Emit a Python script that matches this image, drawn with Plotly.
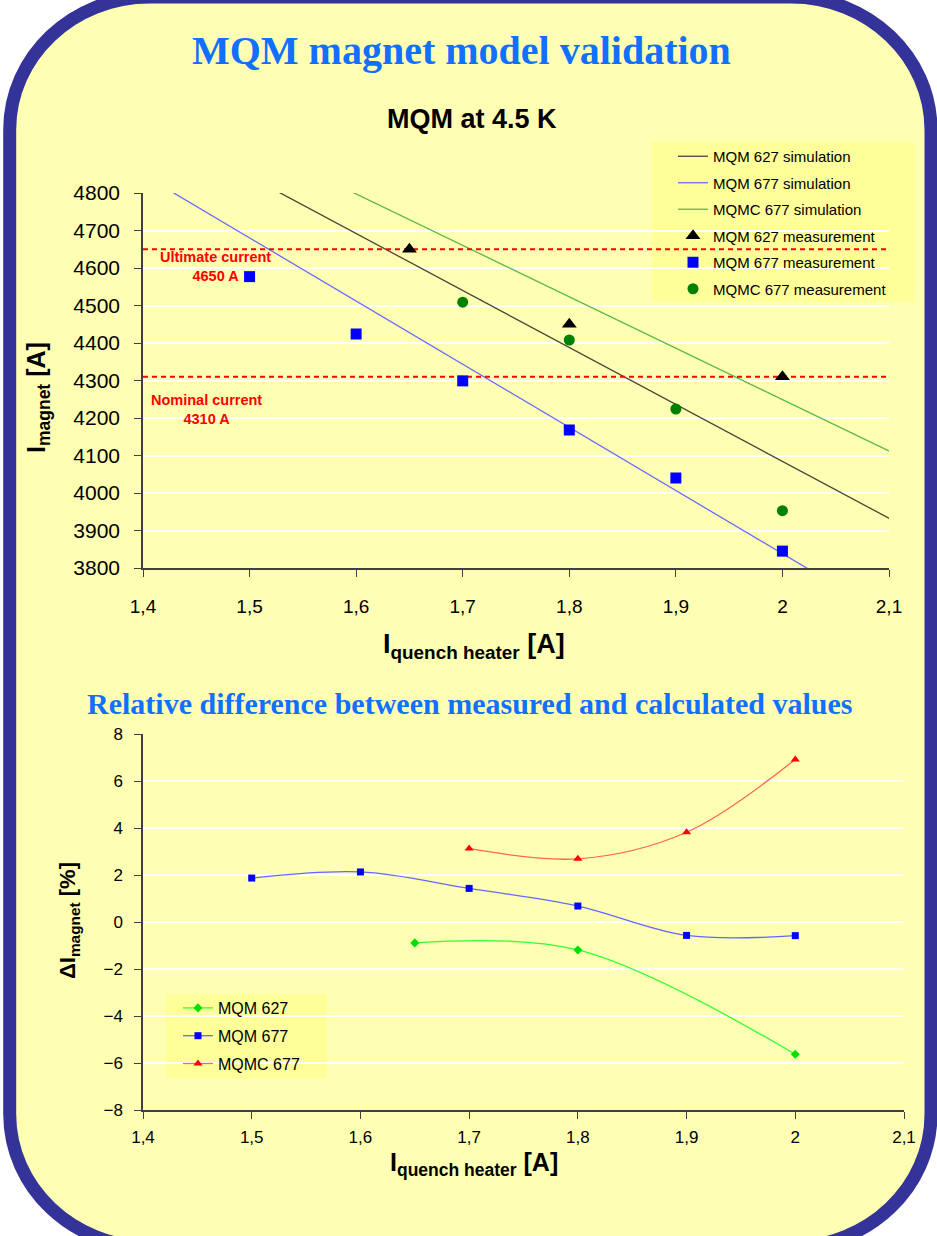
import plotly.graph_objects as go

W, H = 937, 1236

# ---------------- data: top chart ----------------
x_ticks = [1.4, 1.5, 1.6, 1.7, 1.8, 1.9, 2.0, 2.1]
x_ticktext = ["1,4", "1,5", "1,6", "1,7", "1,8", "1,9", "2", "2,1"]
y_top_ticks = [3800, 3900, 4000, 4100, 4200, 4300, 4400, 4500, 4600, 4700, 4800]

sim627_x = [1.517, 2.105]
sim627_y = [4818, 3925]
sim677_x = [1.42, 2.031]
sim677_y = [4815, 3786]
simC677_x = [1.585, 2.105]
simC677_y = [4818, 4105]

meas627_x = [1.65, 1.8, 2.0]
meas627_y = [4650, 4450, 4310]
meas677_x = [1.5, 1.6, 1.7, 1.8, 1.9, 2.0]
meas677_y = [4577, 4424, 4299, 4168, 4040, 3845]
measC677_x = [1.7, 1.8, 1.9, 2.0]
measC677_y = [4509, 4408, 4224, 3953]

ultimate_current = 4650
nominal_current = 4310
ref_x = [1.4, 2.1]

# ---------------- data: bottom chart ----------------
y_bot_ticks = [-8, -6, -4, -2, 0, 2, 4, 6, 8]
d627_x = [1.65, 1.8, 2.0]
d627_y = [-0.89, -1.19, -5.63]
d677_x = [1.5, 1.6, 1.7, 1.8, 1.9, 2.0]
d677_y = [1.87, 2.13, 1.43, 0.68, -0.57, -0.58]
dC677_x = [1.7, 1.8, 1.9, 2.0]
dC677_y = [3.13, 2.69, 3.82, 6.92]

# ---------------- helpers ----------------
def px(x):
    return x / W

def py(y):
    return 1 - y / H

SANS = "Liberation Sans, Arial, sans-serif"
SERIF = "Liberation Serif, Times New Roman, serif"
BG = "#ffffb3"
LEG_BG = "#ffff99"
AXC = "#404040"

fig = go.Figure()

# ---- top chart traces ----
fig.add_trace(go.Scatter(x=sim627_x, y=sim627_y, mode="lines", name="MQM 627 simulation",
                         line=dict(color="#45453a", width=1.3),
                         xaxis="x", yaxis="y", legend="legend", legendgroup="a"))
fig.add_trace(go.Scatter(x=sim677_x, y=sim677_y, mode="lines", name="MQM 677 simulation",
                         line=dict(color="#6b6bff", width=1.3),
                         xaxis="x", yaxis="y", legend="legend", legendgroup="b"))
fig.add_trace(go.Scatter(x=simC677_x, y=simC677_y, mode="lines", name="MQMC 677 simulation",
                         line=dict(color="#5cb84a", width=1.3),
                         xaxis="x", yaxis="y", legend="legend", legendgroup="c"))
fig.add_trace(go.Scatter(x=ref_x, y=[ultimate_current] * 2, mode="lines", showlegend=False,
                         line=dict(color="#ff0000", width=2, dash="5px,4px"), hoverinfo="skip",
                         xaxis="x", yaxis="y"))
fig.add_trace(go.Scatter(x=ref_x, y=[nominal_current] * 2, mode="lines", showlegend=False,
                         line=dict(color="#ff0000", width=2, dash="5px,4px"), hoverinfo="skip",
                         xaxis="x", yaxis="y"))
fig.add_trace(go.Scatter(x=meas627_x, y=meas627_y, mode="markers", name="MQM 627 measurement",
                         marker=dict(symbol="triangle-up", size=13, color="#000000"),
                         xaxis="x", yaxis="y", legend="legend", legendgroup="d"))
fig.add_trace(go.Scatter(x=meas677_x, y=meas677_y, mode="markers", name="MQM 677 measurement",
                         marker=dict(symbol="square", size=11, color="#0000ff"),
                         xaxis="x", yaxis="y", legend="legend", legendgroup="e"))
fig.add_trace(go.Scatter(x=measC677_x, y=measC677_y, mode="markers", name="MQMC 677 measurement",
                         marker=dict(symbol="circle", size=11, color="#008000"),
                         xaxis="x", yaxis="y", legend="legend", legendgroup="f"))

# ---- bottom chart traces ----
fig.add_trace(go.Scatter(x=d627_x, y=d627_y, mode="lines+markers", name="MQM 627",
                         line=dict(color="#33ff33", width=1.3, shape="spline"),
                         marker=dict(symbol="diamond", size=7, color="#00e000"),
                         xaxis="x2", yaxis="y2", legend="legend2", legendgroup="g"))
fig.add_trace(go.Scatter(x=d677_x, y=d677_y, mode="lines+markers", name="MQM 677",
                         line=dict(color="#6666ff", width=1.3, shape="spline"),
                         marker=dict(symbol="square", size=7, color="#0000ff"),
                         xaxis="x2", yaxis="y2", legend="legend2", legendgroup="h"))
fig.add_trace(go.Scatter(x=dC677_x, y=dC677_y, mode="lines+markers", name="MQMC 677",
                         line=dict(color="#ff6650", width=1.3, shape="spline"),
                         marker=dict(symbol="triangle-up", size=8, color="#ff0000"),
                         xaxis="x2", yaxis="y2", legend="legend2", legendgroup="i"))

# ---------------- background frame ----------------
L, R, T, B = 9.7, 931.0, -3.0, 1247.0
rx, ry, k = 140.0, 133.0, 0.5523

def P(x, y):
    return f"{px(x):.5f},{py(y):.5f}"

frame = (
    f"M {P(L, T + ry)} "
    f"C {P(L, T + ry - k * ry)} {P(L + rx - k * rx, T)} {P(L + rx, T)} "
    f"L {P(R - rx, T)} "
    f"C {P(R - rx + k * rx, T)} {P(R, T + ry - k * ry)} {P(R, T + ry)} "
    f"L {P(R, B - ry)} "
    f"C {P(R, B - ry + k * ry)} {P(R - rx + k * rx, B)} {P(R - rx, B)} "
    f"L {P(L + rx, B)} "
    f"C {P(L + rx - k * rx, B)} {P(L, B - ry + k * ry)} {P(L, B - ry)} Z"
)

shapes = [
    dict(type="path", xref="paper", yref="paper", path=frame, fillcolor=BG,
         line=dict(color="#333399", width=13), layer="below"),
    dict(type="rect", xref="paper", yref="paper", x0=px(652), x1=px(915), y0=py(302), y1=py(142),
         fillcolor=LEG_BG, line=dict(width=0), layer="below"),
    dict(type="rect", xref="paper", yref="paper", x0=px(166), x1=px(327), y0=py(1078), y1=py(994),
         fillcolor=LEG_BG, line=dict(width=0), layer="below"),
]

# ---------------- annotations ----------------
def ann(text, x, y, size, color="#000000", family=SANS, angle=0):
    return dict(text=text, x=px(x), y=py(y), xref="paper", yref="paper",
                xanchor="center", yanchor="middle", showarrow=False, textangle=angle,
                font=dict(family=family, size=size, color=color))

annotations = [
    ann("<b>MQM magnet model validation</b>", 461, 50, 40, "#1170ff", SERIF),
    ann("<b>Relative difference between measured and calculated values</b>", 469, 703, 30, "#1170ff", SERIF),
    ann("<b>MQM at 4.5 K</b>", 472, 119, 27),
    ann("<b>I<sub>magnet</sub> [A]</b>", 38, 398, 25, angle=-90),
    ann("<b>I<sub>quench heater</sub> [A]</b>", 474, 646, 27),
    ann("<b>I<sub>quench heater</sub> [A]</b>", 474, 1164, 25),
    ann("<b>ΔI<sub>magnet</sub> [%]</b>", 69, 921, 22, angle=-90),
    ann("<b>Ultimate current<br>4650 A</b>", 215, 266, 14.5, "#ff0000"),
    ann("<b>Nominal current<br>4310 A</b>", 206, 409, 14.5, "#ff0000"),
]

axis_common = dict(showline=True, linecolor=AXC, linewidth=1.5, ticks="outside",
                   tickcolor=AXC, ticklen=7, tickwidth=1.3, zeroline=False, automargin=False,
                   tickfont=dict(family=SANS, color="#000000"))

fig.update_layout(
    width=W, height=H,
    margin=dict(l=0, r=0, t=0, b=0, autoexpand=False),
    paper_bgcolor="#ffffff",
    plot_bgcolor="rgba(0,0,0,0)",
    shapes=shapes,
    annotations=annotations,
    xaxis=dict(domain=[px(143), px(889)], range=[1.4, 2.1], anchor="y",
               tickvals=x_ticks, ticktext=x_ticktext, showgrid=False,
               ticklabelstandoff=13, **axis_common),
    yaxis=dict(domain=[py(568), py(193)], range=[3800, 4800], anchor="x",
               tickvals=y_top_ticks, showgrid=True, gridcolor="#ffffff", gridwidth=1.5,
               ticklabelstandoff=10, **axis_common),
    xaxis2=dict(domain=[px(143), px(904)], range=[1.4, 2.1], anchor="y2",
                tickvals=x_ticks, ticktext=x_ticktext, showgrid=False,
                ticklabelstandoff=4, **axis_common),
    yaxis2=dict(domain=[py(1110), py(734)], range=[-8, 8], anchor="x2",
                tickvals=y_bot_ticks, showgrid=True, gridcolor="#ffffff", gridwidth=1.5,
                ticklabelstandoff=8, **axis_common),
    legend=dict(x=px(673), y=py(140), xanchor="left", yanchor="top",
                bgcolor="rgba(0,0,0,0)", borderwidth=0, tracegroupgap=4,
                font=dict(family=SANS, size=15, color="#000000")),
    legend2=dict(x=px(178), y=py(991), xanchor="left", yanchor="top",
                 bgcolor="rgba(0,0,0,0)", borderwidth=0, tracegroupgap=4,
                 font=dict(family=SANS, size=16, color="#000000")),
    showlegend=True,
)
fig.update_xaxes(tickfont_size=19, selector=dict(anchor="y"))
fig.update_yaxes(tickfont_size=21, selector=dict(anchor="x"))
fig.update_xaxes(tickfont_size=17, selector=dict(anchor="y2"))
fig.update_yaxes(tickfont_size=17, selector=dict(anchor="x2"))

fig.write_html("out.html", config={"displayModeBar": False},
               post_script="document.body.style.margin='0px';")
